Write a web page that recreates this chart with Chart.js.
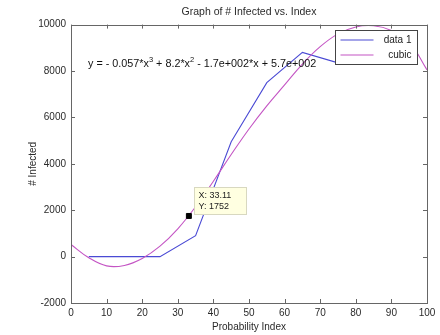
<!DOCTYPE html>
<html>
<head>
<meta charset="utf-8">
<script src="https://cdn.jsdelivr.net/npm/chart.js@4.4.0/dist/chart.umd.min.js"></script>
<style>
  html, body { margin: 0; padding: 0; background: #fff; }
</style>
</head>
<body>
<canvas id="chart" width="440" height="335"></canvas>
<script>
// Values
const xTicks = [0, 10, 20, 30, 40, 50, 60, 70, 80, 90, 100];
const yTicks = [-2000, 0, 2000, 4000, 6000, 8000, 10000];

const dataX = [5, 15, 25, 35, 45, 55, 65, 75, 85, 95];
const dataY = [0, 0, 0, 900, 4950, 7500, 8800, 8350, 8500, 8400];

const cubicX = [0, 5, 10, 15, 20, 25, 30, 35, 40, 45, 50, 55, 60, 65, 70, 75, 80, 85, 90, 95, 100];
const cubicY = [520, -50, -400, -380, -80, 450, 1200, 2150, 3250, 4400, 5500, 6500, 7400, 8300, 9050, 9600, 9900, 9950, 9750, 9250, 8050];

const tipX = 33.11;
const tipY = 1752;

// equation text pieces: [text, isSuperscript]
const equationParts = [
    ['y = - 0.057*x', false], ['3', true],
    [' + 8.2*x', false], ['2', true],
    [' - 1.7e+002*x + 5.7e+002', false],
];

const FONT = '"Liberation Sans", Arial, sans-serif';
const TEXT_COLOR = '#2a2a2a';
const AXIS_COLOR = '#666';

const toPoints = (xs, ys) => xs.map((x, i) => ({ x, y: ys[i] }));

// MATLAB style frame, inward ticks, equation, datatip and legend
const matlabExtras = {
    id: 'matlabExtras',
    afterDatasetsDraw(chart) {
        const { ctx, chartArea: a, scales: { x, y } } = chart;
        ctx.save();

        // frame
        ctx.strokeStyle = AXIS_COLOR;
        ctx.lineWidth = 1;
        ctx.strokeRect(Math.round(a.left) + 0.5, Math.round(a.top) + 0.5,
            Math.round(a.right - a.left), Math.round(a.bottom - a.top));

        // inward ticks
        const tl = 4;
        ctx.beginPath();
        xTicks.forEach(v => {
            const px = Math.round(x.getPixelForValue(v)) + 0.5;
            ctx.moveTo(px, a.bottom); ctx.lineTo(px, a.bottom - tl);
            ctx.moveTo(px, a.top); ctx.lineTo(px, a.top + tl);
        });
        yTicks.forEach(v => {
            const py = Math.round(y.getPixelForValue(v)) + 0.5;
            ctx.moveTo(a.left, py); ctx.lineTo(a.left + tl, py);
            ctx.moveTo(a.right, py); ctx.lineTo(a.right - tl, py);
        });
        ctx.stroke();

        // fit equation
        ctx.fillStyle = '#111';
        ctx.textBaseline = 'alphabetic';
        let ex = a.left + 17;
        const ey = a.top + 42;
        equationParts.forEach(([txt, sup]) => {
            ctx.font = (sup ? '7.5px ' : '10.8px ') + FONT;
            ctx.fillText(txt, ex, sup ? ey - 4.5 : ey);
            ex += ctx.measureText(txt).width;
        });

        // datatip box
        const tx = x.getPixelForValue(tipX);
        const ty = y.getPixelForValue(tipY);
        const bx = Math.round(tx + 5) + 0.5;
        const by = Math.round(ty - 29) + 0.5;
        ctx.fillStyle = '#ffffe1';
        ctx.strokeStyle = '#d8d8c0';
        ctx.fillRect(bx, by, 52, 27);
        ctx.strokeRect(bx, by, 52, 27);
        ctx.fillStyle = '#222';
        ctx.font = '9px ' + FONT;
        ctx.textBaseline = 'middle';
        ctx.fillText('X: ' + tipX, bx + 4, by + 8);
        ctx.fillText('Y: ' + tipY, bx + 4, by + 19);

        // legend
        const lw = 82, lh = 34;
        const lx = Math.round(a.right - 92) + 0.5;
        const ly = Math.round(a.top + 5) + 0.5;
        ctx.fillStyle = '#fff';
        ctx.strokeStyle = '#444';
        ctx.fillRect(lx, ly, lw, lh);
        ctx.strokeRect(lx, ly, lw, lh);
        ctx.font = '10px ' + FONT;
        ctx.textAlign = 'right';
        ctx.lineWidth = 1.2;
        chart.data.datasets.slice(0, 2).forEach((ds, i) => {
            const ry = Math.round(ly + 9 + i * 15);
            ctx.strokeStyle = ds.borderColor;
            ctx.beginPath();
            ctx.moveTo(lx + 5, ry);
            ctx.lineTo(lx + 38, ry);
            ctx.stroke();
            ctx.fillStyle = '#222';
            ctx.fillText(ds.label, lx + lw - 6, ry);
        });

        ctx.restore();
    }
};

const scaleCommon = {
    type: 'linear',
    grid: { display: false, drawTicks: false },
    border: { display: false },
    ticks: { font: { family: FONT, size: 10 }, color: TEXT_COLOR, autoSkip: false, maxRotation: 0 },
};

new Chart(document.getElementById('chart'), {
    type: 'line',
    data: {
        datasets: [
            {
                label: 'data 1',
                data: toPoints(dataX, dataY),
                borderColor: '#4a4ad4',
                borderWidth: 1.1,
                pointRadius: 0,
                tension: 0,
                order: 2,
            },
            {
                label: 'cubic',
                data: toPoints(cubicX, cubicY),
                borderColor: '#c455c4',
                borderWidth: 1.1,
                pointRadius: 0,
                tension: 0.4,
                order: 1,
            },
            {
                label: 'tip',
                type: 'scatter',
                data: [{ x: tipX, y: tipY }],
                pointStyle: 'rect',
                pointRadius: 3.5,
                backgroundColor: '#000',
                borderColor: '#000',
                order: 0,
            }
        ]
    },
    options: {
        responsive: false,
        animation: false,
        devicePixelRatio: 1,
        layout: { padding: { left: 0, right: 13, top: 0, bottom: 0 } },
        plugins: {
            legend: { display: false },
            tooltip: { enabled: false },
            title: {
                display: true,
                fullSize: false,
                text: 'Graph of # Infected vs. Index',
                font: { family: FONT, size: 10.5, weight: 'normal' },
                color: TEXT_COLOR,
                padding: { top: 6, bottom: 6 },
            },
        },
        scales: {
            x: {
                ...scaleCommon,
                min: 0, max: 100,
                afterBuildTicks: s => { s.ticks = xTicks.map(v => ({ value: v })); },
                afterFit: s => { s.height = 32; },
                ticks: { ...scaleCommon.ticks, padding: 4, callback: v => String(v) },
                title: { display: true, text: 'Probability Index', font: { family: FONT, size: 10 }, color: TEXT_COLOR, padding: { top: 0, bottom: 2 } },
            },
            y: {
                ...scaleCommon,
                min: -2000, max: 10000,
                afterBuildTicks: s => { s.ticks = yTicks.map(v => ({ value: v })); },
                afterFit: s => { s.width = 71; },
                ticks: { ...scaleCommon.ticks, padding: 5, callback: v => String(v) },
                title: { display: true, text: '# Infected', font: { family: FONT, size: 10 }, color: TEXT_COLOR, padding: { top: 27, bottom: 0 } },
            },
        },
    },
    plugins: [matlabExtras],
});
</script>
</body>
</html>
